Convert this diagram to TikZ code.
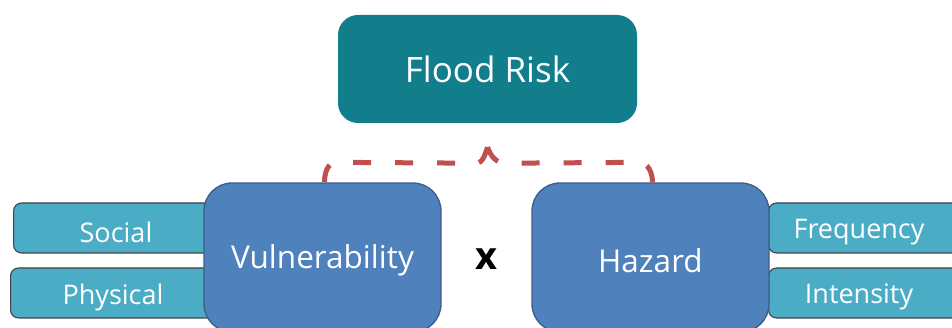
\documentclass[tikz,border=0pt]{standalone}
\usepackage{fontspec}
\setmainfont{Open Sans}
\usetikzlibrary{calc,positioning}
\definecolor{riskteal}{HTML}{127E8C}
\definecolor{mainblue}{HTML}{4F81BD}
\definecolor{mainedge}{HTML}{3A5E8A}
\definecolor{barcyan}{HTML}{4BACC6}
\definecolor{baredge}{HTML}{3C4448}
\definecolor{linkred}{HTML}{C0504D}

\begin{document}
\begin{tikzpicture}[x=1pt,y=1pt,
  every node/.style={align=center,text=white},
  riskbox/.style={fill=riskteal,rounded corners=20pt,minimum width=299pt,minimum height=108pt,font=\fontsize{35}{42}\selectfont},
  mainbox/.style={draw=mainedge,line width=1.3pt,fill=mainblue,rounded corners=28pt,minimum width=237pt,minimum height=149pt},
  maintext/.style={font=\fontsize{31.5}{38}\selectfont},
  barbox/.style={draw=baredge,line width=1.1pt,fill=barcyan,rounded corners=8pt,minimum width=240pt,minimum height=50pt,anchor=west},
  bartext/.style={font=\fontsize{27}{32}\selectfont},
  linkline/.style={linkred,line width=5pt,dash pattern=on 18pt off 24pt}]
\clip (0,0) rectangle (952,328);
% side bars (behind)
\node [barbox] (Social) at (13,100) {};
\node [barbox] (Physical) at (10,35) {};
\node [barbox] (Frequency) at (768,100) {};
\node [barbox] (Intensity) at (768,35) {};
\node [bartext] (SocialText) at ($(Social.west)+(103,-4)$) {Social};
\node [bartext] (PhysicalText) at ($(Physical.west)+(103,-4)$) {Physical};
\node [bartext] (FrequencyText) at ($(Frequency.west)+(91,-4)$) {Frequency};
\node [bartext] (IntensityText) at ($(Intensity.west)+(91,-4)$) {Intensity};
% top box
\node [riskbox] (FloodRisk) at (487.5,259) {Flood Risk};
\coordinate (BraceTip) at ($(FloodRisk.south)+(0,-24)$);
% main boxes
\node [mainbox] (Vulnerability) at (322.5,70.5) {};
\node [mainbox] (Hazard) at (650.5,70.5) {};
\node [maintext] (VulnerabilityText) at ($(Vulnerability)+(0,-3)$) {Vulnerability};
\node [maintext] (HazardText) at ($(Hazard)+(0,-3)$) {Hazard};
% dashed link, drawn out from the tip
\draw [linkline] (BraceTip) to[out=250,in=0] ($(BraceTip)+(-12,-16)$)
  -- ($(Vulnerability.north)+(14,20)$) to[out=180,in=90] ($(Vulnerability.north)+(2,0)$);
\draw [linkline] (BraceTip) to[out=290,in=180] ($(BraceTip)+(18,-16)$)
  -- ($(Hazard.north)+(-12,20)$) to[out=0,in=90] ($(Hazard.north)+(2,0)$);
\node [text=black,font=\fontsize{38}{44}\selectfont\bfseries] (Times) at ($(Vulnerability)!0.5!(Hazard)+(0,-2)$) {x};
\end{tikzpicture}
\end{document}
